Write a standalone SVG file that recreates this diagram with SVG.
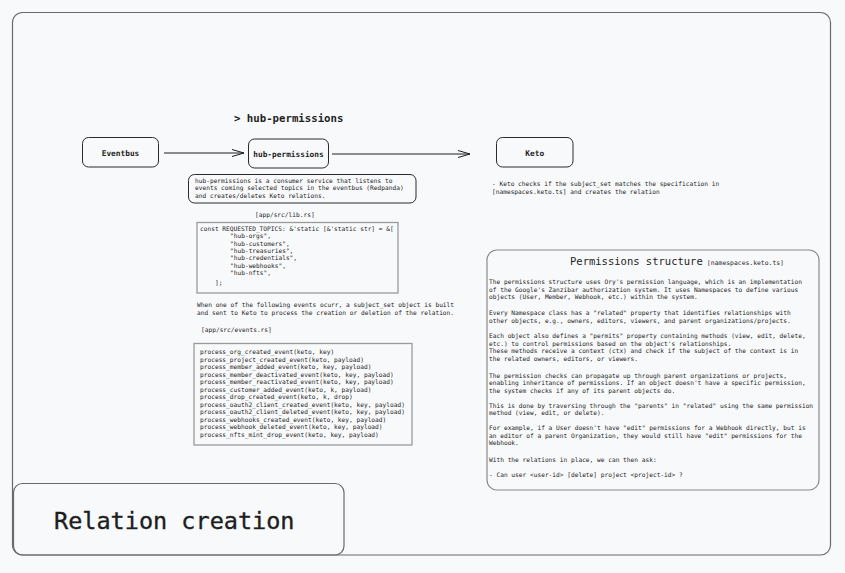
<svg xmlns="http://www.w3.org/2000/svg" width="845" height="573" viewBox="0 0 845 573">
<style>
text{font-family:"DejaVu Sans Mono","Liberation Mono",monospace;fill:#1e1e1e}
.s{font-size:6.2px}
.n{font-size:7.8px;font-weight:bold;text-anchor:middle}
.box{fill:none;stroke:#2a2a2a;stroke-width:1}
.code{fill:none;stroke:#9a9a9a;stroke-width:1.3}
.frame{fill:none;stroke:#6a6a6a;stroke-width:1.2}
.edge{fill:none;stroke:#1e1e1e;stroke-width:1}
</style>
<defs>
<marker id="arr" markerWidth="14" markerHeight="10" refX="13" refY="5" orient="auto" markerUnits="userSpaceOnUse">
<path d="M1,1.5 L13,5 L1,8.5" fill="none" stroke="#1e1e1e" stroke-width="1"/>
</marker>
</defs>
<rect width="845" height="573" fill="#f8f9fa"/>
<rect class="frame" x="12.5" y="12.5" width="818" height="542.5" rx="10"/>

<g id="title-box">
<rect class="frame" x="13.5" y="483.5" width="330.5" height="71.5" rx="9" fill="#f8f9fa"/>
<text x="54" y="529" style="font-size:23.5px;stroke:#1e1e1e;stroke-width:0.35">Relation creation</text>
</g>

<g id="heading">
<text x="234" y="122" style="font-size:10.7px;font-weight:bold">&gt; hub-permissions</text>
</g>

<g id="connectors">
<line class="edge" x1="164" y1="153" x2="244" y2="153" marker-end="url(#arr)"/>
<line class="edge" x1="332" y1="154" x2="470" y2="154" marker-end="url(#arr)"/>
</g>

<g id="eventbus">
<rect class="box" x="82.5" y="137.5" width="76" height="29.5" rx="6"/>
<text class="n" x="120.5" y="155.5">Eventbus</text>
</g>

<g id="hub-permissions">
<rect class="box" x="248.5" y="139" width="80" height="29" rx="6"/>
<text class="n" x="288.5" y="156.7">hub-permissions</text>
</g>

<g id="keto">
<rect class="box" x="496.5" y="137.5" width="76.5" height="29.5" rx="6"/>
<text class="n" x="534.7" y="155.5">Keto</text>
</g>

<g id="hub-desc">
<rect class="box" x="188.5" y="174.5" width="227.5" height="28.5" rx="6"/>
<text class="s" x="195" y="182.5">hub-permissions is a consumer service that listens to</text>
<text class="s" x="195" y="190.3">events coming selected topics in the eventbus (Redpanda)</text>
<text class="s" x="195" y="198.3">and creates/deletes Keto relations.</text>
</g>

<g id="lib-rs">
<text class="s" x="255" y="216.5">[app/src/lib.rs]</text>
<rect class="code" x="197" y="222.5" width="201" height="70.5"/>
<text class="s" x="200" y="231" xml:space="preserve">const REQUESTED_TOPICS: &amp;'static [&amp;'static str] = &amp;[</text>
<text class="s" x="230" y="238.3">"hub-orgs",</text>
<text class="s" x="230" y="245.5">"hub-customers",</text>
<text class="s" x="230" y="252.8">"hub-treasuries",</text>
<text class="s" x="230" y="260.2">"hub-credentials",</text>
<text class="s" x="230" y="267.5">"hub-webhooks",</text>
<text class="s" x="230" y="275">"hub-nfts",</text>
<text class="s" x="215" y="284.5">];</text>
</g>

<g id="events-note">
<text class="s" x="197" y="307.3">When one of the following events ocurr, a subject_set object is built</text>
<text class="s" x="197" y="315">and sent to Keto to process the creation or deletion of the relation.</text>
<text class="s" x="201" y="332.3">[app/src/events.rs]</text>
</g>

<g id="events-rs">
<rect class="code" x="194" y="343.5" width="218" height="101.5"/>
<text class="s" x="200" y="354.3">process_org_created_event(keto, key)</text>
<text class="s" x="200" y="361.8">process_project_created_event(keto, payload)</text>
<text class="s" x="200" y="369.3">process_member_added_event(keto, key, payload)</text>
<text class="s" x="200" y="376.8">process_member_deactivated_event(keto, key, payload)</text>
<text class="s" x="200" y="384.3">process_member_reactivated_event(keto, key, payload)</text>
<text class="s" x="200" y="391.8">process_customer_added_event(keto, k, payload)</text>
<text class="s" x="200" y="399.3">process_drop_created_event(keto, k, drop)</text>
<text class="s" x="200" y="406.8">process_oauth2_client_created_event(keto, key, payload)</text>
<text class="s" x="200" y="414.3">process_oauth2_client_deleted_event(keto, key, payload)</text>
<text class="s" x="200" y="421.8">process_webhooks_created_event(keto, key, payload)</text>
<text class="s" x="200" y="429.3">process_webhook_deleted_event(keto, key, payload)</text>
<text class="s" x="200" y="436.8">process_nfts_mint_drop_event(keto, key, payload)</text>
</g>

<g id="keto-note">
<text class="s" x="492" y="185.5">- Keto checks if the subject_set matches the specification in</text>
<text class="s" x="492" y="194.3">[namespaces.keto.ts] and creates the relation</text>
</g>

<g id="permissions-structure">
<rect class="frame" x="487" y="250" width="332" height="240" rx="10" style="stroke:#8a8a8a"/>
<text x="570" y="264.5" style="font-size:10.5px">Permissions structure</text>
<text x="707" y="264.5" style="font-size:6.4px">[namespaces.keto.ts]</text>
<text class="s" x="489" y="284.3">The permissions structure uses Ory's permission language, which is an implementation</text>
<text class="s" x="489" y="291.8">of the Google's Zanzibar authorization system. It uses Namespaces to define various</text>
<text class="s" x="489" y="299.3">objects (User, Member, Webhook, etc.) within the system.</text>
<text class="s" x="489" y="315">Every Namespace class has a "related" property that identifies relationships with</text>
<text class="s" x="489" y="322.5">other objects, e.g., owners, editors, viewers, and parent organizations/projects.</text>
<text class="s" x="489" y="338">Each object also defines a "permits" property containing methods (view, edit, delete,</text>
<text class="s" x="489" y="345.5">etc.) to control permissions based on the object's relationships.</text>
<text class="s" x="489" y="353.3">These methods receive a context (ctx) and check if the subject of the context is in</text>
<text class="s" x="489" y="361">the related owners, editors, or viewers.</text>
<text class="s" x="489" y="377.7">The permission checks can propagate up through parent organizations or projects,</text>
<text class="s" x="489" y="385.3">enabling inheritance of permissions. If an object doesn't have a specific permission,</text>
<text class="s" x="489" y="392.8">the system checks if any of its parent objects do.</text>
<text class="s" x="489" y="407.5">This is done by traversing through the "parents" in "related" using the same permission</text>
<text class="s" x="489" y="415">method (view, edit, or delete).</text>
<text class="s" x="489" y="430.2">For example, if a User doesn't have "edit" permissions for a Webhook directly, but is</text>
<text class="s" x="489" y="437.7">an editor of a parent Organization, they would still have "edit" permissions for the</text>
<text class="s" x="489" y="445.2">Webhook.</text>
<text class="s" x="489" y="462">With the relations in place, we can then ask:</text>
<text class="s" x="489" y="476.7">- Can user &lt;user-id&gt; [delete] project &lt;project-id&gt; ?</text>
</g>
</svg>
